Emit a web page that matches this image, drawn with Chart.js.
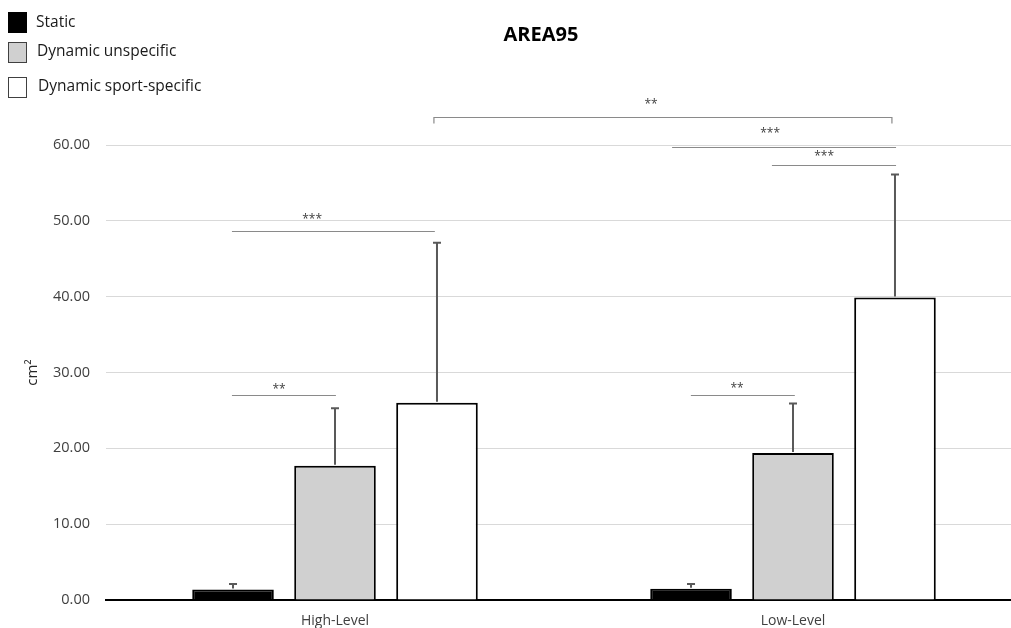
<!DOCTYPE html>
<html>
<head>
<meta charset="utf-8">
<title>AREA95</title>
<script src="https://cdn.jsdelivr.net/npm/chart.js@4.4.1/dist/chart.umd.min.js"></script>
<style>
  html, body { margin: 0; padding: 0; overflow: hidden; background: #ffffff; }
  canvas { display: block; }
</style>
</head>
<body>
<canvas id="chart" width="1022" height="628"></canvas>
<script>
// ---- data ----
const chartTitle = 'AREA95';
const categories = ['High-Level', 'Low-Level'];
const seriesNames = ['Static', 'Dynamic unspecific', 'Dynamic sport-specific'];
const staticMean = [1.4, 1.5];
const staticSD = [0.7, 0.6];
const unspecificMean = [17.7, 19.4];
const unspecificSD = [7.6, 6.5];
const sportMean = [26.0, 39.9];
const sportSD = [21.1, 16.2];
const yTicks = [0, 10, 20, 30, 40, 50, 60];
const yTitle = 'cm²';

// significance brackets (x in category units, y in cm²)
const bracketFrom = [-0.225, -0.225, 0.777, 0.736, 0.954, 0.216];
const bracketTo = [0.002, 0.218, 1.004, 1.225, 1.225, 1.216];
const bracketLevel = [27.0, 48.7, 27.0, 59.8, 57.4, 63.7];
const bracketStars = ['**', '***', '**', '***', '***', '**'];
const starPos = [-0.122, -0.05, 0.878, 0.950, 1.068, 0.690];
const starLevel = [28.2, 50.6, 28.3, 62.0, 58.9, 65.8];
const bracketEnds = [false, false, false, false, false, true];

Chart.defaults.font.family = '"Open Sans", sans-serif';

// error bars, significance brackets, title and legend
const annotations = {
  id: 'annotations',
  afterDatasetsDraw(chart) {
    const { ctx, scales: { x, y } } = chart;
    ctx.save();

    // error bars (mean + SD)
    chart.data.datasets.forEach((ds, d) => {
      const meta = chart.getDatasetMeta(d);
      meta.data.forEach((bar, i) => {
        const top = y.getPixelForValue(ds.data[i] + ds.sd[i]);
        ctx.strokeStyle = '#595959';
        ctx.lineWidth = 2;
        ctx.beginPath();
        ctx.moveTo(bar.x, bar.y - 1);
        ctx.lineTo(bar.x, top);
        ctx.moveTo(bar.x - 4, top);
        ctx.lineTo(bar.x + 4, top);
        ctx.stroke();
      });
    });

    // significance brackets
    bracketLevel.forEach((lvl, k) => {
      const x0 = x.getPixelForValue(bracketFrom[k]);
      const x1 = x.getPixelForValue(bracketTo[k]);
      const yy = Math.round(y.getPixelForValue(lvl)) + 0.5;
      ctx.strokeStyle = '#8a8a8a';
      ctx.lineWidth = 1.2;
      ctx.beginPath();
      if (bracketEnds[k]) {
        ctx.moveTo(x0, yy + 6);
        ctx.lineTo(x0, yy);
        ctx.lineTo(x1, yy);
        ctx.lineTo(x1, yy + 6);
      } else {
        ctx.moveTo(x0, yy);
        ctx.lineTo(x1, yy);
      }
      ctx.stroke();

      ctx.fillStyle = '#404040';
      ctx.font = '12px "Open Sans"';
      ctx.textAlign = 'center';
      ctx.textBaseline = 'alphabetic';
      ctx.fillText(bracketStars[k], x.getPixelForValue(starPos[k]), y.getPixelForValue(starLevel[k]) + 7);
    });
    ctx.restore();
  },
  afterDraw(chart) {
    const { ctx } = chart;
    ctx.save();

    // title
    ctx.fillStyle = '#000000';
    ctx.font = 'bold 20px "Open Sans"';
    ctx.textAlign = 'center';
    ctx.textBaseline = 'middle';
    ctx.fillText(chartTitle, 541, 35);

    // legend
    const boxTop = [12, 42, 77];
    const textMid = [23, 52, 87];
    ctx.font = '15.5px "Open Sans"';
    ctx.textAlign = 'left';
    chart.data.datasets.forEach((ds, d) => {
      ctx.fillStyle = ds.backgroundColor;
      ctx.fillRect(8, boxTop[d], 19, 21);
      ctx.strokeStyle = d === 0 ? '#000000' : '#404040';
      ctx.lineWidth = 1;
      ctx.strokeRect(8.5, boxTop[d] + 0.5, 18, 20);
      ctx.fillStyle = '#1a1a1a';
      ctx.fillText(ds.label, 36 + d, textMid[d]);
    });
    ctx.restore();
  }
};

const means = [staticMean, unspecificMean, sportMean];
const sds = [staticSD, unspecificSD, sportSD];
const fills = ['#000000', '#d0d0d0', '#ffffff'];

new Chart(document.getElementById('chart'), {
  type: 'bar',
  data: {
    labels: categories,
    datasets: seriesNames.map((name, d) => ({
      label: name,
      data: means[d],
      sd: sds[d],
      backgroundColor: fills[d],
      borderColor: '#000000',
      borderWidth: 2,
      barPercentage: 0.8,
      categoryPercentage: 0.668
    }))
  },
  options: {
    responsive: false,
    animation: false,
    layout: { padding: { top: 145, left: 0, right: 0, bottom: 0 } },
    plugins: {
      legend: { display: false },
      title: { display: false },
      tooltip: { enabled: false }
    },
    scales: {
      x: {
        offset: true,
        grid: { display: false, drawTicks: false },
        border: { display: true, color: '#000000', width: 2 },
        ticks: { color: '#404040', font: { size: 14 }, padding: 13 },
        afterFit(scale) { scale.height = 28; }
      },
      y: {
        min: 0,
        max: 60,
        afterBuildTicks(scale) { scale.ticks = yTicks.map(v => ({ value: v })); },
        grid: { color: '#d9d9d9', lineWidth: 1, drawTicks: false },
        border: { display: false },
        ticks: {
          color: '#404040',
          font: { size: 14.5 },
          padding: 16,
          callback: v => Number(v).toFixed(2)
        },
        title: {
          display: true,
          text: yTitle,
          color: '#262626',
          font: { size: 15 },
          padding: { top: 24, bottom: 0 }
        },
        afterFit(scale) { scale.width = 106; }
      }
    }
  },
  plugins: [annotations]
});
</script>
</body>
</html>
